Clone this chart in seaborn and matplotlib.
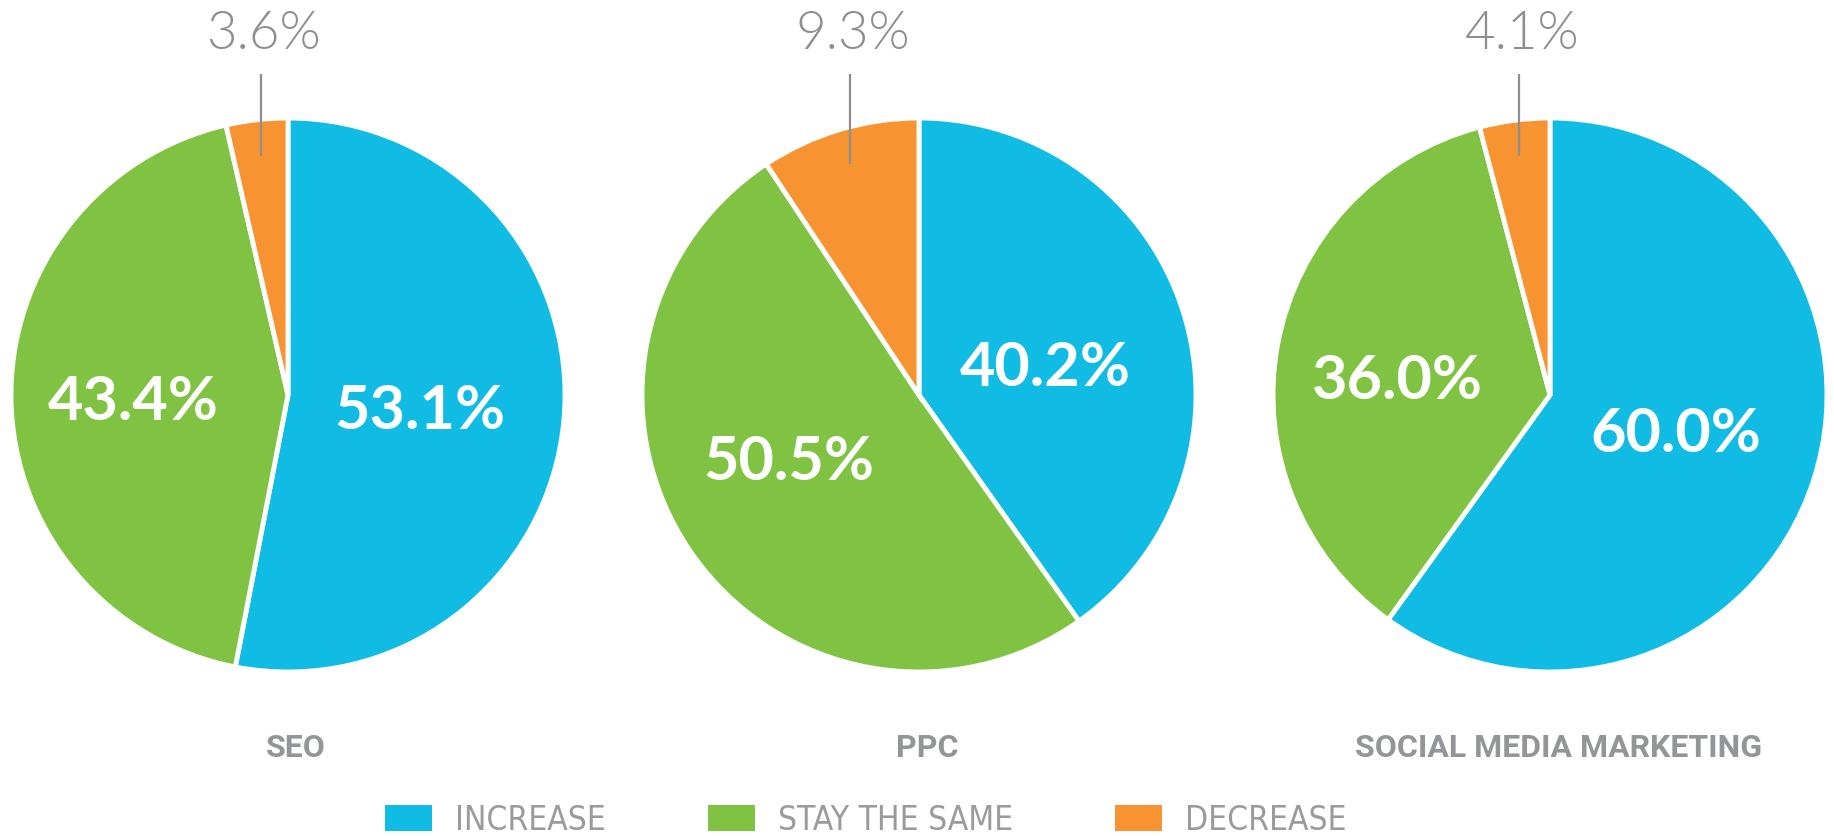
import numpy as np
import matplotlib
matplotlib.use("Agg")
import matplotlib.pyplot as plt
from matplotlib.patches import Patch
import seaborn as sns

# data
channels = ["SEO", "PPC", "SOCIAL MEDIA MARKETING"]
answers = ["INCREASE", "STAY THE SAME", "DECREASE"]
increase = [53.1, 40.2, 60.0]
stay_same = [43.4, 50.5, 36.0]
decrease = [3.6, 9.3, 4.1]

colors = ["#10BBE4", "#80C342", "#F79431"]
gray = "#939598"

sns.set_style("white")
plt.rcParams["font.family"] = ["Lato", "DejaVu Sans"]

W, H = 1834, 836
fig = plt.figure(figsize=(W / 100, H / 100), dpi=100)

R = 277          # pie radius in px
cy = 441         # pie centre, px from bottom
centers = [288, 919, 1550]
half_w = 1.1

for i, name in enumerate(channels):
    cx = centers[i]
    ax = fig.add_axes([(cx - half_w * R) / W, 0, 2 * half_w * R / W, 1])
    vals = [increase[i], stay_same[i], decrease[i]]
    wedges, _ = ax.pie(vals, colors=colors, startangle=90, counterclock=False,
                       radius=1, normalize=True,
                       wedgeprops=dict(edgecolor="white", linewidth=3.5))
    ax.set_xlim(-half_w, half_w)
    ax.set_ylim(-cy / R, (H - cy) / R)
    ax.set_aspect("auto")
    ax.axis("off")

    # big labels inside the two large slices
    for w, v in zip(wedges[:2], vals[:2]):
        mid = np.deg2rad((w.theta1 + w.theta2) / 2)
        ax.text(0.52 * np.cos(mid) - 0.04, 0.52 * np.sin(mid) * 0.75 - 0.02,
                f"{v:.1f}%", ha="center", va="center", color="white",
                fontsize=44, fontweight="bold")

    # small slice: label above with a leader line
    w = wedges[2]
    mid = np.deg2rad((w.theta1 + w.theta2) / 2)
    x0, y0 = 0.87 * np.cos(mid), 0.87 * np.sin(mid)
    ax.plot([x0, x0], [y0, 1.16], color="#8E8E90", lw=1.6, solid_capstyle="butt")
    ax.text(x0 + 0.01, 1.30, f"{vals[2]:.1f}%", ha="center", va="center",
            color="#8E8E90", fontsize=38, fontweight=300)

    ax.text(0.03, -1.275, name, ha="center", va="center", color=gray,
            fontsize=23, fontweight="bold", family=["Roboto", "DejaVu Sans"])

handles = [Patch(facecolor=c, edgecolor="none") for c in colors]
fig.legend(handles, answers, loc="center", bbox_to_anchor=(866 / W, 16 / H),
           ncol=3, frameon=False, handlelength=1.41, handleheight=0.81,
           handletextpad=0.7, columnspacing=3.05,
           prop=dict(family="DejaVu Sans", stretch="condensed", weight="light", size=24),
           labelcolor="#9A9B9E")

fig.savefig("out.png", dpi=100, facecolor="white")
